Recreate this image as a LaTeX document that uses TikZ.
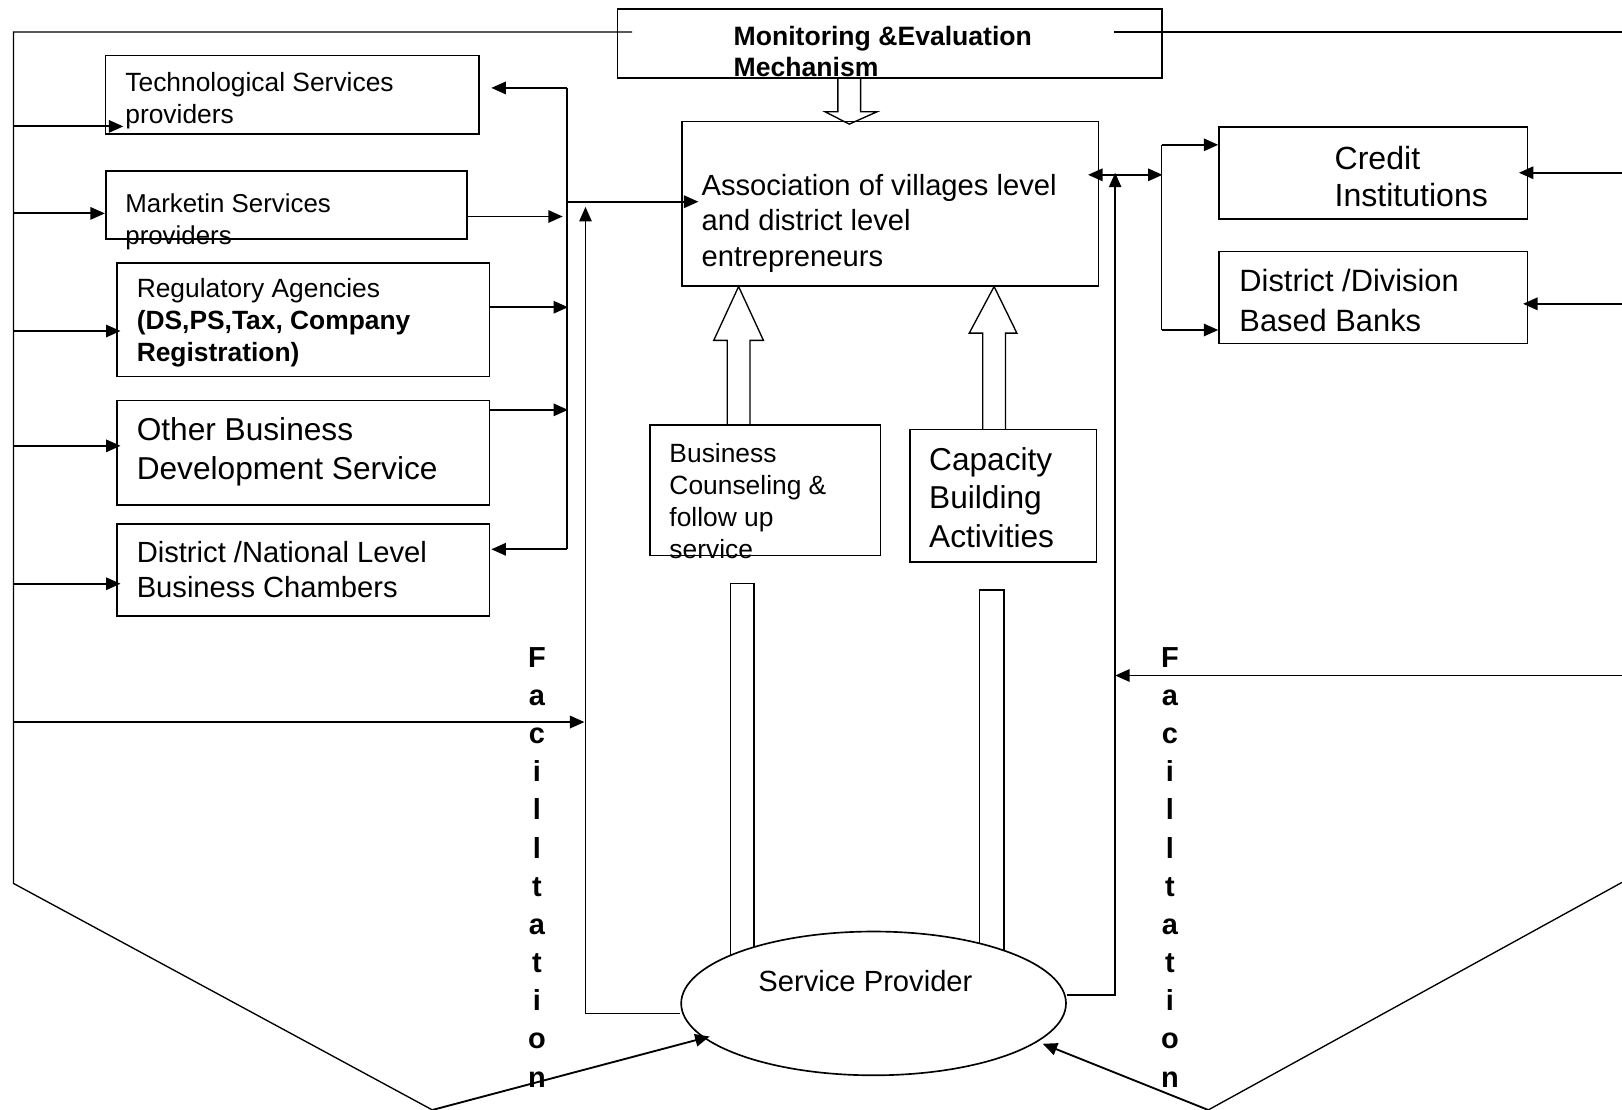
\documentclass[tikz,border=0pt]{standalone}
\usepackage{fontspec}
\setmainfont{Liberation Sans}
\usepackage{tikz}
\usetikzlibrary{positioning,arrows.meta,shapes.geometric}

\begin{document}
\begin{tikzpicture}
  [x=1pt,y=-1pt,
   box/.style={draw,rectangle,line width=1.6pt,inner sep=0pt},
   txt/.style={inner sep=0pt,anchor=west,align=left},
   fsmall/.style={font=\fontsize{25.5}{31}\selectfont},
   fmid/.style={font=\fontsize{28.2}{34}\selectfont},
   fbig/.style={font=\fontsize{30.6}{37.5}\selectfont},
   facil/.style={inner sep=0pt,anchor=base,font=\bfseries\fontsize{28}{34}\selectfont},
   wire/.style={line width=1.3pt},
   arrw/.style={-{Triangle[length=14pt,width=12pt]}},
   arr/.style={arrw,line width=1.8pt},
   arr2/.style={{Triangle[length=14pt,width=12pt]}-{Triangle[length=14pt,width=12pt]},line width=1.8pt},
   hollow/.style={draw,line width=1.3pt,fill=white}]

  \useasboundingbox (0,0) rectangle (1568,1073);

  % outer frame
  \coordinate (frTL) at (13,31);
  \coordinate (frBL) at (13,854);
  \coordinate (bL) at (418,1073);
  \coordinate (bR) at (1168,1073);
  \coordinate (frBR) at (1568,853);
  \draw[wire] (611,31) -- (frTL) -- (frBL) -- (bL);
  \draw[wire] (1077,31) -- (1568,31);
  \draw[wire] (bR) -- (frBR);

  % hollow arrows and bars
  \draw[hollow] (810,75.5) -- (810,108) -- (797.5,108) -- (821,120) -- (848,108) -- (832,108) -- (832,75.5);
  \draw[hollow] (703,411) -- (703,329) -- (690,329) -- (714,277) -- (738,329) -- (725,329) -- (725,411);
  \draw[hollow] (950,415) -- (950,322) -- (937,322) -- (961,277) -- (983,322) -- (972,322) -- (972,415);
  \draw[hollow] (706,935) -- (706,564) -- (729,564) -- (729,935);
  \draw[hollow] (947,935) -- (947,570.5) -- (970.5,570.5) -- (970.5,935);

  % boxes
  \node[box,minimum width=526pt,minimum height=67pt] (mon) at (860,42) {};
  \node[box,minimum width=361pt,minimum height=76pt] (tech) at (282.5,91.7) {};
  \node[box,minimum width=349pt,minimum height=66pt] (mkt) at (276.7,198.3) {};
  \node[box,minimum width=360pt,minimum height=110pt] (reg) at (293.3,309) {};
  \node[box,minimum width=360pt,minimum height=101pt] (obd) at (293.3,437.5) {};
  \node[box,minimum width=360pt,minimum height=89pt] (chamb) at (293.3,550.8) {};
  \node[box,minimum width=403pt,minimum height=159pt] (assoc) at (860.5,197) {};
  \node[box,minimum width=223pt,minimum height=126pt] (couns) at (739.7,474) {};
  \node[box,minimum width=180pt,minimum height=128pt] (cap) at (970,479.3) {};
  \node[box,minimum width=298pt,minimum height=89pt] (credit) at (1327.5,167) {};
  \node[box,minimum width=298pt,minimum height=89pt] (banks) at (1327.5,287.7) {};
  \node[draw,ellipse,line width=1.6pt,fill=white,inner sep=0pt,
        minimum width=372pt,minimum height=139pt] (sp) at (844.5,970) {};

  % texts
  \node[txt,font=\bfseries\fontsize{25.7}{30}\selectfont] (tMon) at (709,50) {Monitoring \&Evaluation\\Mechanism};
  \node[txt,fsmall] (tTech) at (121,97) {Technological Services\\providers};
  \node[txt,font=\fontsize{25}{31}\selectfont] (tMkt) at (121,214) {Marketin Services\\providers};
  \node[txt,fsmall] (tReg) at (132,312) {Regulatory Agencies\\\textbf{(DS,PS,Tax, Company}\\\textbf{Registration)}};
  \node[txt,fbig] (tObd) at (132,437) {Other Business\\Development Service};
  \node[txt,fmid] (tChamb) at (132,551) {District /National Level\\Business Chambers};
  \node[txt,fmid] (tAssoc) at (678,216) {Association of villages level\\and district level\\entrepreneurs};
  \node[txt,fsmall] (tCouns) at (647,484) {Business\\Counseling \&\\follow up\\service};
  \node[txt,fbig] (tCap) at (898,481) {Capacity\\Building\\Activities};
  \node[txt,font=\fontsize{31}{36}\selectfont] (tCredit) at (1290,170.5) {Credit\\Institutions};
  \node[txt,font=\fontsize{29.8}{38}\selectfont] (tBanks) at (1198,290.5) {District /Division\\Based Banks};
  \node[txt,fmid] (tSp) at (733,948) {Service Provider};

  % inputs from the left frame
  \foreach \b/\dx/\dy in {tech/18/30.5, mkt/0/8, reg/4/11, obd/4/-6.5, chamb/4/13.5}{
    \coordinate (tip) at ([shift={(\dx,\dy)}]\b.west);
    \draw[arr] (tip -| frTL) -- (tip);
  }
  \coordinate (inL) at (565,698);
  \draw[arr] (inL -| frTL) -- (inL);

  % left bus
  \coordinate (busT) at (548,85);
  \coordinate (busB) at (548,531);
  \draw[wire] (busT) -- (busB);
  \draw[arr] (busT) -- +(-73,0);
  \draw[arr] (busB) -- +(-73,0);
  \draw[arr] ([yshift=-11pt]mkt.east) -- +(92,0);
  \draw[arr] ([yshift=12pt]reg.east) -- +(75,0);
  \draw[arr] ([yshift=-10pt]obd.north east) -- +(75,0);
  \coordinate (aIn) at ([shift={(17,-2)}]assoc.west);
  \draw[arr] (aIn -| busT) -- (aIn);
  \coordinate (upL) at (566,200);
  \draw[wire,arrw] ([yshift=-10pt]sp.west) -| (upL);

  % right side
  \coordinate (rbT) at (1123,140);
  \coordinate (rbB) at (1123,319);
  \draw[wire] (rbT) -- (rbB);
  \draw[arr] (rbT) -- (rbT -| credit.west);
  \draw[arr] (rbB) -- (rbB -| banks.west);
  \draw[arr2] ([shift={(-11,-28)}]assoc.east) -- +(72,0);
  \coordinate (upR) at (1078,167);
  \draw[wire,arrw] ([yshift=8pt]sp.east) -| (upR);
  \coordinate (cIn) at ([xshift=-9pt]credit.east);
  \draw[arr] (cIn -| frBR) -- (cIn);
  \coordinate (bIn) at ([shift={(-5,6)}]banks.east);
  \draw[arr] (bIn -| frBR) -- (bIn);
  \coordinate (inR) at (1078,653);
  \draw[arr] (inR -| frBR) -- (inR);

  % bottom inputs to the service provider
  \draw[arr] (bL) -- ([shift={(-158.5,32)}]sp.center);
  \draw[arr] (bR) -- ([shift={(163.5,39)}]sp.center);

  % Facilltation columns
  \foreach \ch [count=\i] in {F,a,c,i,l,l,t,a,t,i,o,n}{
    \node[facil] (fl\i) at (519,{645+36.9*(\i-1)}) {\ch};
    \node[facil] (fr\i) at (1131,{645+36.9*(\i-1)}) {\ch};
  }
\end{tikzpicture}
\end{document}
